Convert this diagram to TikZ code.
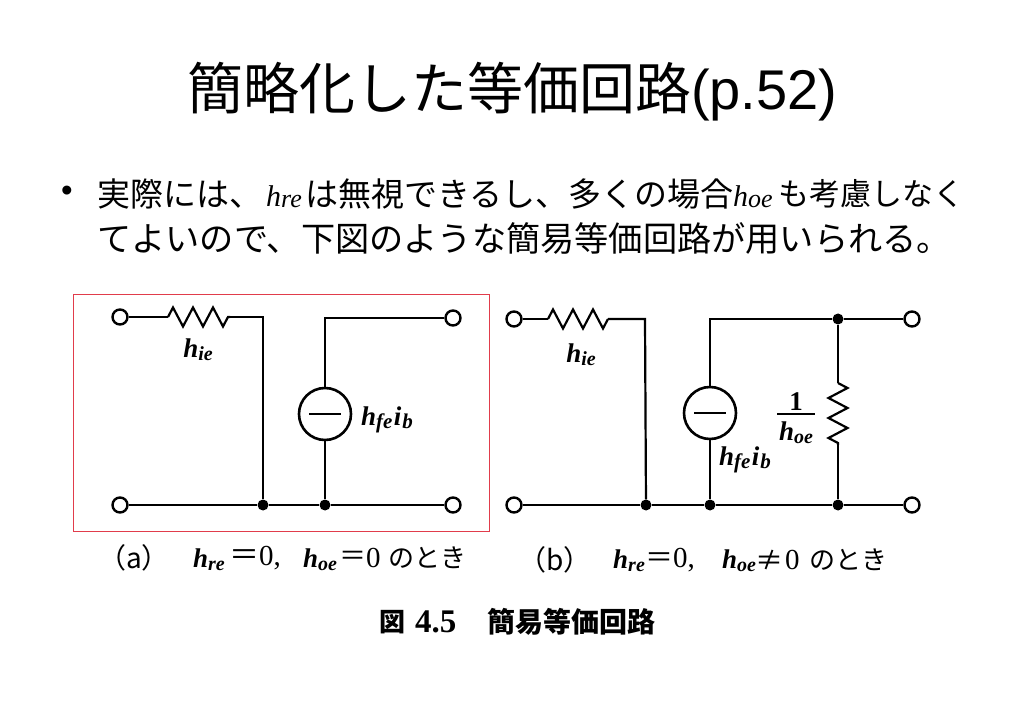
\documentclass[tikz,border=0pt]{standalone}
\usepackage{fontspec}
\usetikzlibrary{decorations.pathmorphing}
\setmainfont{Liberation Sans}
\newfontfamily\cjk{Noto Sans CJK JP}
\newfontfamily\serif{Liberation Serif}
\definecolor{framered}{RGB}{225,60,75}
\newcommand{\fs}[1]{\fontsize{#1}{#1}\selectfont}
\newcommand{\hsub}[1]{{\serif\bfseries\itshape\fs{27}h\raisebox{-3pt}{\fs{20}#1}}}
\newcommand{\hfeib}{{\serif\bfseries\itshape\fs{27}h\raisebox{-3pt}{\fs{21}fe}\kern1.5pt i\kern1pt\raisebox{-3pt}{\fs{21}b}}}
\newcommand{\hbody}[1]{{\serif\itshape\fs{30}h\raisebox{-1pt}{\fs{26}#1}}}
\tikzset{
  wire/.style={line width=2.2pt},
  resistor/.style={wire, decorate, decoration={zigzag, segment length=20pt, amplitude=9.5pt}},
  terminal/.style={circle, draw, line width=2.4pt, fill=white, minimum size=15pt, inner sep=0pt},
  junction/.style={circle, fill=black, minimum size=11pt, inner sep=0pt},
  source/.style={circle, draw, line width=2.6pt, fill=white, minimum size=52pt, inner sep=0pt},
  txt/.style={anchor=west, inner sep=0pt, text=black},
  label/.style={inner sep=0pt}
}
\begin{document}
\begin{tikzpicture}[x=1pt,y=-1pt]
    \useasboundingbox[fill=white] (0,0) rectangle (1023,708);
    % heading and text
    \node[txt] (title) at (187,92) {\fs{56}{\cjk 簡略化した等価回路}(p.52)};
    \node[txt] (bullet) at (61,194) {\fs{33}•};
    \node[txt] (lineA) at (97,194) {\fs{33}\cjk 実際には、};
    \node[txt] (hre) at (266,197) {\hbody{re}};
    \node[txt] (lineB) at (305,194) {\fs{33}\cjk は無視できるし、多くの場合};
    \node[txt] (hoe) at (733,197) {\hbody{oe}};
    \node[txt] (lineC) at (778,194) {\fs{31}\cjk も考慮しなく};
    \node[txt] (lineD) at (97,238) {\fs{34.2}\cjk てよいので、下図のような簡易等価回路が用いられる。};
    % red frame
    \node[draw=framered, line width=1pt, minimum width=416pt, minimum height=237pt, inner sep=0pt] (frame) at (281,413) {};
    % left circuit
    \node[terminal] (tla) at (120,317) {};
    \node[terminal] (bla) at (120,505) {};
    \node[terminal] (tra) at (453,318) {};
    \node[terminal] (bra) at (453,505) {};
    \node[junction] (jla) at (263,505) {};
    \node[junction] (jra) at (325,505) {};
    \node[source] (srca) at (325,414) {\rule{32pt}{2pt}};
    \coordinate (ra1) at (168,317);
    \coordinate (ra2) at (230,317);
    \coordinate (ca1) at (263,317);
    \coordinate (ca2) at (325,318);
    \draw[wire] (tla) -- (ra1);
    \draw[resistor] (ra1) -- (ra2);
    \draw[wire] (ra2) -- (ca1) -- (jla);
    \draw[wire] (tra) -- (ca2) -- (srca);
    \draw[wire] (srca) -- (jra);
    \draw[wire] (bla) -- (jla) -- (jra) -- (bra);
    \node[label] (hiea) at (198,350) {\hsub{ie}};
    \node[label] (hfea) at (387,420) {\hfeib};
    % right circuit
    \node[terminal] (tlb) at (514,319) {};
    \node[terminal] (blb) at (514,505) {};
    \node[terminal] (trb) at (912,319) {};
    \node[terminal] (brb) at (912,505) {};
    \node[junction] (jlb) at (646,505) {};
    \node[junction] (jmb) at (710,505) {};
    \node[junction] (jrb) at (838,505) {};
    \node[junction] (jtb) at (838,319) {};
    \node[source] (srcb) at (710,413) {\rule{32pt}{2pt}};
    \coordinate (rb1) at (548,319);
    \coordinate (rb2) at (608,319);
    \coordinate (cb1) at (645,319);
    \coordinate (cb2) at (710,319);
    \coordinate (rb3) at (838,383);
    \coordinate (rb4) at (838,445);
    \draw[wire] (tlb) -- (rb1);
    \draw[resistor] (rb1) -- (rb2);
    \draw[wire] (rb2) -- (cb1) -- (jlb);
    \draw[wire] (srcb) -- (cb2) -- (jtb) -- (trb);
    \draw[wire] (srcb) -- (jmb);
    \draw[wire] (jtb) -- (rb3);
    \draw[resistor] (rb3) -- (rb4);
    \draw[wire] (rb4) -- (jrb);
    \draw[wire] (blb) -- (jlb) -- (jmb) -- (jrb) -- (brb);
    \node[label] (hieb) at (581,355) {\hsub{ie}};
    \node[label] (hfeb) at (745,460) {\hfeib};
    \node[label] (one) at (796,402) {\fs{27}\serif\bfseries 1};
    \coordinate (fr1) at (777,414);
    \coordinate (fr2) at (815,414);
    \draw[line width=1.4pt] (fr1) -- (fr2);
    \node[label] (hoeb) at (796,433) {\hsub{oe}};
    % captions
    \node[txt] (capa) at (98,558) {\fs{28}\cjk （a）};
    \node[txt] (hrea) at (193,560) {\hsub{re}};
    \node[txt] (eqa) at (229,558) {\fs{30}\cjk ＝};
    \node[txt] (zeroa) at (259,558) {\fs{29}\serif 0,};
    \node[txt] (hoea) at (303,560) {\hsub{oe}};
    \node[txt] (eqb) at (339,558) {\fs{27}\cjk ＝};
    \node[txt] (zerob) at (366,558) {\fs{29}\serif 0};
    \node[txt] (tokia) at (388,558) {\fs{26}\cjk のとき};
    \node[txt] (capb) at (518,560) {\fs{28}\cjk （b）};
    \node[txt] (hreb) at (613,561) {\hsub{re}};
    \node[txt] (eqc) at (645,560) {\fs{28}\cjk ＝};
    \node[txt] (zeroc) at (673,560) {\fs{29}\serif 0,};
    \node[txt] (hoec) at (722,561) {\hsub{oe}};
    \node[txt] (neq) at (755,560) {\fs{28}\cjk ≠};
    \node[txt] (zerod) at (785,560) {\fs{29}\serif 0};
    \node[txt] (tokib) at (809,560) {\fs{26}\cjk のとき};
    % figure caption
    \node[txt] (fig) at (379,622) {\fs{26}\cjk\bfseries 図};
    \node[txt] (fignum) at (415,622) {\fs{33}\serif\bfseries 4.5};
    \node[txt] (figname) at (487,622) {\fs{28}\cjk\bfseries 簡易等価回路};
  \end{tikzpicture}
\end{document}
